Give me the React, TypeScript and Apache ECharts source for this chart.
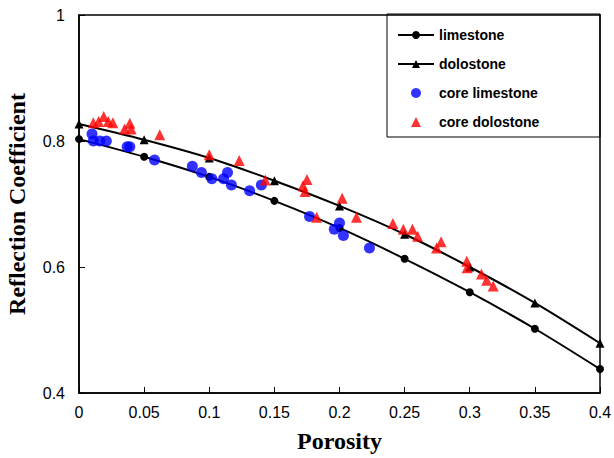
import React, { useEffect, useRef } from "react";
import * as echarts from "echarts";

const porosityModel = [0, 0.05, 0.1, 0.15, 0.2, 0.25, 0.3, 0.35, 0.4];
const limestoneModel = [0.803, 0.775, 0.743, 0.705, 0.662, 0.613, 0.56, 0.502, 0.438];
const dolostoneModel = [0.827, 0.802, 0.773, 0.737, 0.697, 0.652, 0.6, 0.543, 0.479];

const coreLimePorosity = [0.01, 0.011, 0.016, 0.021, 0.037, 0.039, 0.058, 0.087, 0.094, 0.102, 0.111, 0.114, 0.117, 0.131, 0.14, 0.177, 0.196, 0.2, 0.203, 0.223];
const coreLimeRC = [0.811, 0.8, 0.8, 0.8, 0.791, 0.791, 0.77, 0.76, 0.75, 0.74, 0.74, 0.75, 0.73, 0.721, 0.73, 0.68, 0.66, 0.67, 0.65, 0.63];

const coreDoloPorosity = [0.011, 0.015, 0.019, 0.0225, 0.026, 0.035, 0.039, 0.04, 0.062, 0.1, 0.123, 0.143, 0.172, 0.1735, 0.175, 0.1825, 0.202, 0.213, 0.241, 0.249, 0.256, 0.26, 0.2745, 0.278, 0.2977, 0.298, 0.309, 0.313, 0.318];
const coreDoloRC = [0.829, 0.831, 0.839, 0.831, 0.829, 0.819, 0.828, 0.819, 0.81, 0.778, 0.769, 0.738, 0.729, 0.72, 0.739, 0.679, 0.709, 0.679, 0.669, 0.66, 0.66, 0.649, 0.63, 0.64, 0.609, 0.599, 0.589, 0.579, 0.57];

const xTicks = { min: 0, max: 0.4, interval: 0.05 };
const yTicks = { min: 0.4, max: 1, interval: 0.2 };

export default function App() {
  const ref = useRef<HTMLDivElement>(null);
  useEffect(() => {
    if (!ref.current) return;
    const chart = echarts.init(ref.current, undefined, { renderer: "svg" });
    const zip = (xs: number[], ys: number[]) => xs.map((x, i) => [x, ys[i]]);
    chart.setOption({
      animation: false,
      backgroundColor: "#fff",
      grid: {
        left: 79,
        right: 14,
        top: 15,
        bottom: 65,
        show: true,
        borderColor: "#000",
        borderWidth: 1.5,
        containLabel: false,
        outerBoundsMode: "none",
      },
      legend: {
        orient: "vertical",
        left: 392,
        top: 23,
        itemWidth: 36,
        itemHeight: 10,
        itemGap: 15,
        symbolKeepAspect: true,
        textStyle: {
          fontFamily: "Liberation Sans, Arial, sans-serif",
          fontWeight: "bold",
          fontSize: 14,
          color: "#000",
        },
        data: [
          { name: "limestone" },
          { name: "dolostone" },
          { name: "core limestone", icon: "circle" },
          { name: "core dolostone", icon: "path://M5,0L10,10L0,10Z" },
        ],
      },
      graphic: [
        {
          type: "rect",
          shape: { x: 387, y: 14, width: 213, height: 123 },
          style: { fill: "none", stroke: "#000", lineWidth: 1 },
          z: 10,
        },
      ],
      xAxis: {
        type: "value",
        min: xTicks.min,
        max: xTicks.max,
        interval: xTicks.interval,
        name: "Porosity",
        nameLocation: "middle",
        nameGap: 36,
        nameTextStyle: {
          fontFamily: "Liberation Serif, Times New Roman, serif",
          fontWeight: "bold",
          fontSize: 24,
          color: "#000",
        },
        axisLine: { lineStyle: { color: "#000", width: 1.5 } },
        axisTick: { inside: true, length: 6, lineStyle: { color: "#000" } },
        axisLabel: {
          fontFamily: "Liberation Sans, Arial, sans-serif",
          fontSize: 16,
          color: "#000",
          margin: 11,
        },
        splitLine: { show: false },
      },
      yAxis: {
        type: "value",
        min: yTicks.min,
        max: yTicks.max,
        interval: yTicks.interval,
        name: "Reflection Coefficient",
        nameLocation: "middle",
        nameGap: 50,
        nameTextStyle: {
          fontFamily: "Liberation Serif, Times New Roman, serif",
          fontWeight: "bold",
          fontSize: 24,
          color: "#000",
        },
        axisLine: { lineStyle: { color: "#000", width: 1.5 } },
        axisTick: { inside: true, length: 6, lineStyle: { color: "#000" } },
        axisLabel: {
          fontFamily: "Liberation Sans, Arial, sans-serif",
          fontSize: 16,
          color: "#000",
          margin: 14,
        },
        splitLine: { show: false },
      },
      series: [
        {
          name: "limestone",
          type: "line",
          smooth: 0.3,
          data: zip(porosityModel, limestoneModel),
          symbol: "circle",
          symbolSize: 8,
          itemStyle: { color: "#000" },
          lineStyle: { color: "#000", width: 2 },
          z: 2,
        },
        {
          name: "dolostone",
          type: "line",
          smooth: 0.3,
          data: zip(porosityModel, dolostoneModel),
          symbol: "triangle",
          symbolSize: 9,
          itemStyle: { color: "#000" },
          lineStyle: { color: "#000", width: 2 },
          z: 2,
        },
        {
          name: "core limestone",
          type: "scatter",
          data: zip(coreLimePorosity, coreLimeRC),
          symbol: "circle",
          symbolSize: 11,
          itemStyle: { color: "#0000ff" },
          z: 3,
        },
        {
          name: "core dolostone",
          type: "scatter",
          data: zip(coreDoloPorosity, coreDoloRC),
          symbol: "triangle",
          symbolSize: 11,
          itemStyle: { color: "#ff0000" },
          z: 3,
        },
      ],
    });
    return () => chart.dispose();
  }, []);
  return <div ref={ref} style={{ width: 614, height: 458, position: "absolute", left: 0, top: 0 }} />;
}
